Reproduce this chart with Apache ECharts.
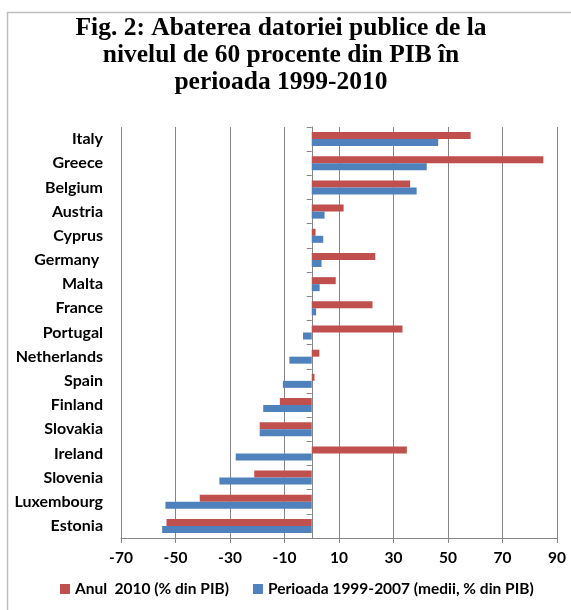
<!DOCTYPE html>
<html>
<head>
<meta charset="utf-8">
<script src="https://cdn.jsdelivr.net/npm/echarts@6/dist/echarts.min.js"></script>
<style>
  html, body { margin: 0; padding: 0; background: #fff; }
  #chart { width: 571px; height: 610px; }
</style>
</head>
<body>
<div id="chart"></div>
<script>
// tari, de sus in jos
const countries = ['Italy', 'Greece', 'Belgium', 'Austria', 'Cyprus', 'Germany ', 'Malta', 'France',
  'Portugal', 'Netherlands', 'Spain', 'Finland', 'Slovakia', 'Ireland', 'Slovenia', 'Luxembourg', 'Estonia'];
// Anul 2010 (% din PIB)
const an2010 = [58.3, 85.0, 36.1, 11.7, 1.4, 23.3, 8.8, 22.3,
  33.3, 2.8, 1.0, -11.7, -19.1, 34.9, -21.1, -41.1, -53.3];
// Perioada 1999-2007 (medii, % din PIB)
const medii9907 = [46.4, 42.2, 38.5, 4.7, 4.2, 3.6, 2.9, 1.6,
  -3.2, -8.2, -10.6, -17.8, -19.1, -27.9, -33.9, -53.7, -54.9];

const chart = echarts.init(document.getElementById('chart'));

const labelFont = { fontFamily: 'Lato', fontWeight: 'bold', fontSize: 15.5, color: '#000' };

chart.setOption({
  animation: false,
  backgroundColor: '#fff',
  title: {
    text: 'Fig. 2: Abaterea datoriei publice de la\nnivelul de 60 procente din PIB în\nperioada 1999-2010',
    left: 276,
    textAlign: 'center',
    top: 10,
    textStyle: {
      fontFamily: 'Liberation Serif',
      fontWeight: 'bold',
      fontSize: 25.5,
      lineHeight: 27,
      color: '#000'
    }
  },
  graphic: [{
    type: 'rect',
    shape: { x: 7.5, y: 12.5, width: 600, height: 650 },
    style: { fill: 'none', stroke: '#bfbfbf', lineWidth: 1.5 },
    silent: true
  }],
  grid: { left: 121, right: 14, top: 127, bottom: 72, containLabel: false, outerBoundsMode: 'none' },
  legend: {
    data: ['Anul  2010 (% din PIB)', 'Perioada 1999-2007 (medii, % din PIB)'],
    bottom: 8,
    left: 55,
    icon: 'rect',
    itemWidth: 10,
    itemHeight: 10,
    itemGap: 24,
    textStyle: labelFont
  },
  xAxis: {
    type: 'value',
    min: -70,
    max: 90,
    interval: 20,
    axisLine: { show: true, lineStyle: { color: '#868686' } },
    axisTick: { show: true, length: 5, lineStyle: { color: '#868686' } },
    splitLine: { show: true, lineStyle: { color: '#868686' } },
    axisLabel: Object.assign({ margin: 12 }, labelFont)
  },
  yAxis: [
    {
      // etichetele tarilor, la marginea din stanga
      type: 'category',
      inverse: true,
      position: 'left',
      data: countries,
      axisLine: { show: false, onZero: false },
      axisTick: { show: false },
      splitLine: { show: false },
      axisLabel: Object.assign({ margin: 18, interval: 0 }, labelFont, { fontSize: 16 })
    },
    {
      // axa verticala la zero
      type: 'category',
      inverse: true,
      position: 'left',
      data: countries,
      axisLine: { show: true, onZero: true, lineStyle: { color: '#868686' } },
      axisTick: { show: true, length: 5, lineStyle: { color: '#868686' } },
      splitLine: { show: false },
      axisLabel: { show: false }
    }
  ],
  series: [
    {
      name: 'Anul  2010 (% din PIB)',
      type: 'bar',
      data: an2010,
      barWidth: 7,
      barGap: '0%',
      itemStyle: { color: '#C0504D' }
    },
    {
      name: 'Perioada 1999-2007 (medii, % din PIB)',
      type: 'bar',
      data: medii9907,
      barWidth: 7,
      barGap: '0%',
      itemStyle: { color: '#4F81BD' }
    }
  ]
});
</script>
</body>
</html>
